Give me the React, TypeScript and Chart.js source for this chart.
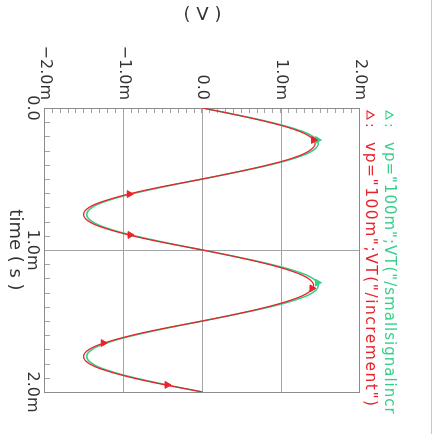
import React, { useEffect, useRef } from 'react';
import { Chart, registerables } from 'chart.js';

Chart.register(...registerables);

// time in ms
const timeMs = [
  0, 0.05, 0.1, 0.15, 0.2, 0.25, 0.3, 0.35, 0.4, 0.45,
  0.5, 0.55, 0.6, 0.65, 0.7, 0.75, 0.8, 0.85, 0.9, 0.95,
  1.0, 1.05, 1.1, 1.15, 1.2, 1.25, 1.3, 1.35, 1.4, 1.45,
  1.5, 1.55, 1.6, 1.65, 1.7, 1.75, 1.8, 1.85, 1.9, 1.95, 2.0,
];
// voltage in mV
const smallSignalV = [
  0, 0.45, 0.86, 1.19, 1.40, 1.47, 1.40, 1.19, 0.86, 0.45,
  0, -0.45, -0.86, -1.19, -1.40, -1.47, -1.40, -1.19, -0.86, -0.45,
  0, 0.45, 0.86, 1.19, 1.40, 1.47, 1.40, 1.19, 0.86, 0.45,
  0, -0.45, -0.86, -1.19, -1.40, -1.47, -1.40, -1.19, -0.86, -0.45, 0,
];
const incrementV = [
  0, 0.44, 0.84, 1.16, 1.36, 1.43, 1.36, 1.16, 0.84, 0.44,
  0, -0.47, -0.89, -1.22, -1.44, -1.51, -1.44, -1.22, -0.89, -0.47,
  0, 0.44, 0.83, 1.14, 1.34, 1.41, 1.34, 1.14, 0.83, 0.44,
  0, -0.47, -0.89, -1.22, -1.44, -1.51, -1.44, -1.22, -0.89, -0.47, 0,
];
const smallSignalMarkT = [0.225, 1.23];
const smallSignalMarkV = [1.46, 1.46];
const incrementMarkT = [0.225, 0.606, 0.894, 1.27, 1.655, 1.95];
const incrementMarkV = [1.41, -0.93, -0.92, 1.39, -1.26, -0.45];

const timeTicks = [0, 1, 2];
const voltTicks = [-2, -1, 0, 1, 2];

const legendLabels = [
  'vp="100m";VT("/smallsignalincr',
  'vp="100m";VT("/increment")',
];

const GREEN = '#36cf8a';
const RED = '#e8232b';
const GRID = '#a4a4a8';
const TEXT = '#333333';
const FONT = 'DejaVu Sans';

const fmt = (v: number) =>
  v === 0 ? '0.0' : (v < 0 ? '\u2212' : '') + Math.abs(v).toFixed(1) + 'm';

const decor = {
  id: 'decor',
  beforeDatasetsDraw(chart: any) {
    const { ctx, chartArea: a, scales } = chart;
    ctx.save();
    ctx.strokeStyle = GRID;
    ctx.lineWidth = 1;
    ctx.beginPath();
    for (let i = 1; i < 20; i++) {
      const x = Math.round(scales.x.getPixelForValue(i / 10)) + 0.5;
      ctx.moveTo(x, a.bottom);
      ctx.lineTo(x, a.bottom - 5);
    }
    for (let i = -19; i < 20; i++) {
      const y = Math.round(scales.y.getPixelForValue(i / 10)) + 0.5;
      ctx.moveTo(a.left, y);
      ctx.lineTo(a.left + 5, y);
    }
    ctx.stroke();
    ctx.strokeStyle = '#8c8c90';
    ctx.strokeRect(Math.round(a.left) + 0.5, Math.round(a.top) + 0.5, Math.round(a.right - a.left), Math.round(a.bottom - a.top));
    ctx.strokeStyle = '#c8c8cc';
    ctx.beginPath();
    ctx.moveTo(0, 9.5);
    ctx.lineTo(chart.width, 9.5);
    ctx.stroke();
    ctx.restore();
  },
  afterDraw(chart: any) {
    const { ctx } = chart;
    const rows = [
      { y: 52, color: GREEN, text: legendLabels[0], size: 15, spacing: '1px' },
      { y: 71, color: RED, text: legendLabels[1], size: 15.5, spacing: '1.5px' },
    ];
    ctx.save();
    rows.forEach((r) => {
      ctx.strokeStyle = r.color;
      ctx.fillStyle = r.color;
      ctx.lineWidth = 1.2;
      ctx.beginPath();
      ctx.moveTo(115, r.y - 4);
      ctx.lineTo(119, r.y + 3);
      ctx.lineTo(111, r.y + 3);
      ctx.closePath();
      ctx.stroke();
      ctx.font = `14px "${FONT}"`;
      ctx.textBaseline = 'middle';
      ctx.textAlign = 'left';
      ctx.fillText(':', 123, r.y);
      ctx.font = `${r.size}px "${FONT}"`;
      (ctx as any).letterSpacing = r.spacing;
      ctx.fillText(r.text, 142, r.y);
      (ctx as any).letterSpacing = '0px';
    });
    ctx.restore();
  },
};

export default function App() {
  const ref = useRef<HTMLCanvasElement | null>(null);

  useEffect(() => {
    if (!ref.current) return;
    const pts = (t: number[], v: number[]) => t.map((x, i) => ({ x, y: v[i] }));
    const chart = new Chart(ref.current, {
      type: 'line',
      data: {
        datasets: [
          {
            label: 'increment markers',
            data: pts(incrementMarkT, incrementMarkV),
            showLine: false,
            pointStyle: 'triangle',
            pointRadius: 4,
            pointBackgroundColor: RED,
            pointBorderColor: RED,
          },
          {
            label: 'smallsignal markers',
            data: pts(smallSignalMarkT, smallSignalMarkV),
            showLine: false,
            pointStyle: 'triangle',
            pointRadius: 4,
            pointBackgroundColor: GREEN,
            pointBorderColor: GREEN,
          },
          {
            label: legendLabels[1],
            data: pts(timeMs, incrementV),
            borderColor: RED,
            borderWidth: 1.3,
            pointRadius: 0,
            tension: 0.4,
          },
          {
            label: legendLabels[0],
            data: pts(timeMs, smallSignalV),
            borderColor: GREEN,
            borderWidth: 1.5,
            pointRadius: 0,
            tension: 0.4,
          },
        ],
      },
      options: {
        responsive: false,
        animation: false,
        devicePixelRatio: 1,
        layout: { padding: { left: 0, top: 81, right: 42, bottom: 0 } },
        plugins: { legend: { display: false }, tooltip: { enabled: false } },
        scales: {
          x: {
            type: 'linear',
            min: 0,
            max: 2,
            afterBuildTicks: (s: any) => {
              s.ticks = timeTicks.map((value) => ({ value }));
            },
            afterFit: (s: any) => {
              s.height = 45;
            },
            ticks: {
              callback: (v: any) => fmt(Number(v)),
              font: { family: FONT, size: 16 },
              color: TEXT,
              padding: 3,
              maxRotation: 0,
            },
            grid: {
              drawTicks: false,
              color: (c: any) => (c.tick && c.tick.value === 1 ? GRID : 'rgba(0,0,0,0)'),
            },
            border: { display: false },
            title: {
              display: true,
              text: 'time ( s )',
              font: { family: FONT, size: 18 },
              color: TEXT,
              padding: { top: 0, bottom: 4 },
            },
          },
          y: {
            type: 'linear',
            min: -2,
            max: 2,
            afterBuildTicks: (s: any) => {
              s.ticks = voltTicks.map((value) => ({ value }));
            },
            afterFit: (s: any) => {
              s.width = 108;
            },
            ticks: {
              callback: (v: any) => fmt(Number(v)),
              font: { family: FONT, size: 16 },
              color: TEXT,
              padding: 8,
            },
            grid: {
              drawTicks: false,
              color: (c: any) =>
                c.tick && Math.abs(c.tick.value) < 1.5 ? GRID : 'rgba(0,0,0,0)',
            },
            border: { display: false },
            title: {
              display: true,
              text: '( V )',
              font: { family: FONT, size: 18 },
              color: TEXT,
              padding: { top: 5, bottom: 0 },
            },
          },
        },
      },
      plugins: [decor],
    } as any);
    return () => chart.destroy();
  }, []);

  return (
    <div
      style={{
        position: 'fixed',
        left: 0,
        top: 0,
        width: 441,
        height: 434,
        overflow: 'hidden',
        background: '#fff',
      }}
    >
      <canvas
        ref={ref}
        width={434}
        height={441}
        style={{
          position: 'absolute',
          left: 0,
          top: 0,
          width: 434,
          height: 441,
          transformOrigin: '0 0',
          transform: 'translate(441px, 0px) rotate(90deg)',
        }}
      />
    </div>
  );
}
